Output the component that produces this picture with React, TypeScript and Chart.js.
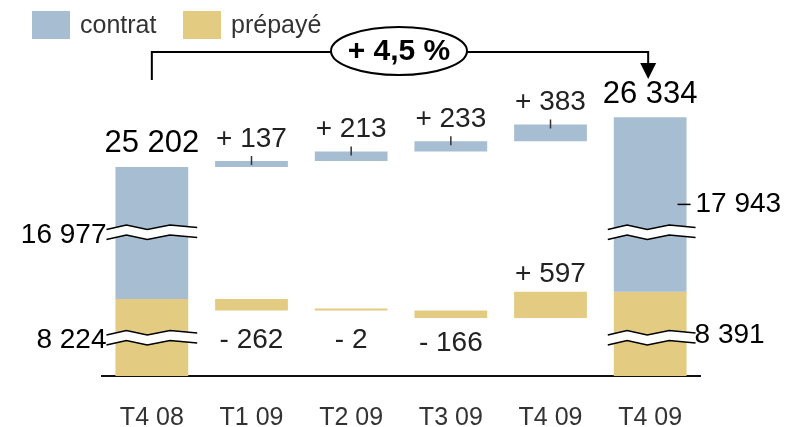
import React, { useEffect, useRef } from "react";
import { Chart, registerables } from "chart.js";

Chart.register(...registerables);

// ---------- data ----------
const categories = ["T4 08", "T1 09", "T2 09", "T3 09", "T4 09", "T4 09"];
const seriesNames = ["contrat", "prépayé"];
const contratStart = 16977;
const prepayeStart = 8224;
const contratDeltas = [137, 213, 233, 383];
const prepayeDeltas = [-262, -2, -166, 597];
const contratEnd = 17943;
const prepayeEnd = 8391;
const totalStart = 25202;
const totalEnd = 26334;
const growthLabel = "+ 4,5 %";

// ---------- style ----------
const BLUE = "#A6BDD2";
const YELLOW = "#E3CB82";
const FONT = '"Liberation Sans", Arial, Helvetica, sans-serif';

// broken axis: hidden part below each break
const PRE_BREAK = 6474;
const CON_BREAK = 13977;
const PRE_BREAK_MARK = 864; // display units where the zigzag sits (prepaid)
const CON_BREAK_MARK = 3260; // display units where the zigzag sits (contract)

const dp = (v: number) => v - PRE_BREAK;
const dc = (v: number) => v - CON_BREAK;

const fmt = (n: number) =>
  String(Math.abs(n)).replace(/\B(?=(\d{3})+(?!\d))/g, " ");
const fmtDelta = (n: number) => (n >= 0 ? "+ " : "- ") + fmt(n);

function buildData() {
  const pre: [number, number][] = [];
  const con: [number, number][] = [];
  const preBase = dp(prepayeStart);
  pre.push([0, preBase]);
  con.push([preBase, preBase + dc(contratStart)]);
  let p = prepayeStart;
  let c = contratStart;
  for (let i = 0; i < prepayeDeltas.length; i++) {
    pre.push([dp(p), dp(p + prepayeDeltas[i])]);
    p += prepayeDeltas[i];
    con.push([preBase + dc(c), preBase + dc(c + contratDeltas[i])]);
    c += contratDeltas[i];
  }
  const preEndD = dp(prepayeEnd);
  pre.push([0, preEndD]);
  con.push([preEndD, preEndD + dc(contratEnd)]);
  return { pre, con };
}

function zigzag(ctx: CanvasRenderingContext2D, xL: number, xR: number, yc: number) {
  const ts = [0, 0.22, 0.45, 0.7, 1];
  const offs = [2, -2.5, 2, -2.5, 0];
  const w = xR - xL;
  const top = ts.map((t, i) => [xL + t * w, yc - 5 + offs[i]]);
  const bot = ts.map((t, i) => [xL + t * w, yc + 5 + offs[i]]);
  ctx.save();
  ctx.beginPath();
  top.forEach(([x, y], i) => (i ? ctx.lineTo(x, y) : ctx.moveTo(x, y)));
  for (let i = bot.length - 1; i >= 0; i--) ctx.lineTo(bot[i][0], bot[i][1]);
  ctx.closePath();
  ctx.fillStyle = "#fff";
  ctx.fill();
  ctx.strokeStyle = "#000";
  ctx.lineWidth = 1.5;
  ctx.beginPath();
  top.forEach(([x, y], i) => (i ? ctx.lineTo(x, y) : ctx.moveTo(x, y)));
  ctx.stroke();
  ctx.beginPath();
  bot.forEach(([x, y], i) => (i ? ctx.lineTo(x, y) : ctx.moveTo(x, y)));
  ctx.stroke();
  ctx.restore();
}

const overlay = {
  id: "overlay",
  afterDatasetsDraw(chart: any) {
    const ctx: CanvasRenderingContext2D = chart.ctx;
    const y = chart.scales.y;
    const x = chart.scales.x;
    const conMeta = chart.getDatasetMeta(0).data;
    const preMeta = chart.getDatasetMeta(1).data;
    const conData = chart.data.datasets[0].data as [number, number][];
    const preData = chart.data.datasets[1].data as [number, number][];
    const n = categories.length;

    const text = (s: string, px: number, py: number, size: number, align: CanvasTextAlign, color = "#000", weight = "normal") => {
      ctx.font = `${weight} ${size}px ${FONT}`;
      ctx.fillStyle = color;
      ctx.textAlign = align;
      ctx.textBaseline = "middle";
      ctx.fillText(s, px, py);
    };

    ctx.save();
    // break marks on first and last bars
    [0, n - 1].forEach((i) => {
      const b = conMeta[i];
      const left = b.x - b.width / 2;
      const right = b.x + b.width / 2;
      const xL = i === 0 ? left - 9 : left - 6;
      const xR = right + 9;
      zigzag(ctx, xL, xR, y.getPixelForValue(CON_BREAK_MARK));
      zigzag(ctx, xL, xR, y.getPixelForValue(PRE_BREAK_MARK));
    });

    // totals
    const b0 = conMeta[0];
    const bN = conMeta[n - 1];
    text(fmt(totalStart), b0.x, y.getPixelForValue(conData[0][1]) - 24, 31, "center");
    text(fmt(totalEnd), bN.x, y.getPixelForValue(conData[n - 1][1]) - 23, 31, "center");

    // side labels
    const leftX = b0.x - b0.width / 2 - 9;
    text(fmt(contratStart), leftX, y.getPixelForValue(CON_BREAK_MARK) + 3, 28, "right");
    text(fmt(prepayeStart), leftX, y.getPixelForValue(PRE_BREAK_MARK) + 2, 28, "right");
    const rightEdge = bN.x + bN.width / 2;
    const midCon = y.getPixelForValue((conData[n - 1][0] + conData[n - 1][1]) / 2);
    ctx.strokeStyle = "#000";
    ctx.lineWidth = 1.5;
    ctx.beginPath();
    ctx.moveTo(rightEdge - 9, midCon);
    ctx.lineTo(rightEdge + 4, midCon);
    ctx.stroke();
    text(fmt(contratEnd), rightEdge + 9, midCon, 28, "left");
    text(fmt(prepayeEnd), rightEdge + 8, y.getPixelForValue(PRE_BREAK_MARK) - 3, 28, "left");

    // delta labels
    for (let i = 0; i < contratDeltas.length; i++) {
      const k = i + 1;
      const cb = conMeta[k];
      const top = y.getPixelForValue(Math.max(conData[k][0], conData[k][1]));
      ctx.strokeStyle = "#333";
      ctx.lineWidth = 1.5;
      ctx.beginPath();
      ctx.moveTo(cb.x, top - 5);
      ctx.lineTo(cb.x, top + 4);
      ctx.stroke();
      text(fmtDelta(contratDeltas[i]), cb.x, top - 22, 28, "center", "#222");

      const pb = preMeta[k];
      const d = prepayeDeltas[i];
      if (d >= 0) {
        const ptop = y.getPixelForValue(Math.max(preData[k][0], preData[k][1]));
        text(fmtDelta(d), pb.x, ptop - 17, 28, "center", "#222");
      } else {
        const pbot = y.getPixelForValue(Math.min(preData[k][0], preData[k][1]));
        text(fmtDelta(d), pb.x, Math.max(pbot + 25, y.getPixelForValue(0) - 36), 28, "center", "#222");
      }
    }

    // growth bracket
    const xs = x.getPixelForValue(0);
    const xe = x.getPixelForValue(n - 1) - 2;
    const cx = (xs + xe) / 2 - 1;
    const ly = 52;
    const rx = 68;
    const ry = 24;
    ctx.strokeStyle = "#000";
    ctx.lineWidth = 2;
    ctx.beginPath();
    ctx.moveTo(xs, 80);
    ctx.lineTo(xs, ly);
    ctx.lineTo(cx - rx, ly);
    ctx.moveTo(cx + rx, ly);
    ctx.lineTo(xe, ly);
    ctx.lineTo(xe, 66);
    ctx.stroke();
    ctx.fillStyle = "#000";
    ctx.beginPath();
    ctx.moveTo(xe - 8, 63);
    ctx.lineTo(xe + 8, 63);
    ctx.lineTo(xe, 79);
    ctx.closePath();
    ctx.fill();
    ctx.beginPath();
    ctx.ellipse(cx, ly - 1, rx, ry, 0, 0, Math.PI * 2);
    ctx.fillStyle = "#fff";
    ctx.fill();
    ctx.stroke();
    text(growthLabel, cx, ly, 30, "center", "#000", "bold");

    // legend
    const colors = [BLUE, YELLOW];
    const lx = [32, 183];
    seriesNames.forEach((name, i) => {
      ctx.fillStyle = colors[i];
      ctx.fillRect(lx[i], 11, 38, 28);
      text(name, lx[i] + 48, 26, 25, "left", "#333");
    });
    ctx.restore();
  },
};

export default function App() {
  const ref = useRef<HTMLCanvasElement>(null);
  useEffect(() => {
    document.body.style.margin = "0";
    const { pre, con } = buildData();
    const chart = new Chart(ref.current as HTMLCanvasElement, {
      type: "bar",
      data: {
        labels: categories,
        datasets: [
          { label: seriesNames[0], data: con as any, backgroundColor: BLUE, grouped: false, categoryPercentage: 1, barPercentage: 0.73, minBarLength: 2 } as any,
          { label: seriesNames[1], data: pre as any, backgroundColor: YELLOW, grouped: false, categoryPercentage: 1, barPercentage: 0.73, minBarLength: 2 } as any,
        ],
      },
      options: {
        responsive: false,
        animation: false,
        layout: { padding: { left: 102, right: 100, top: 20, bottom: 0 } },
        plugins: { legend: { display: false }, tooltip: { enabled: false } },
        scales: {
          x: {
            grid: { display: false, drawTicks: false },
            border: { display: true, color: "#111", width: 2 },
            ticks: { font: { family: FONT, size: 25, lineHeight: 1 }, color: "#333", padding: 30, maxRotation: 0 },
            afterFit: (s: any) => {
              s.height = 51;
            },
          },
          y: { display: false, min: 0, max: 8091 },
        },
      },
      plugins: [overlay],
    });
    return () => chart.destroy();
  }, []);
  return <canvas ref={ref} width={800} height={427} style={{ display: "block" }} />;
}
